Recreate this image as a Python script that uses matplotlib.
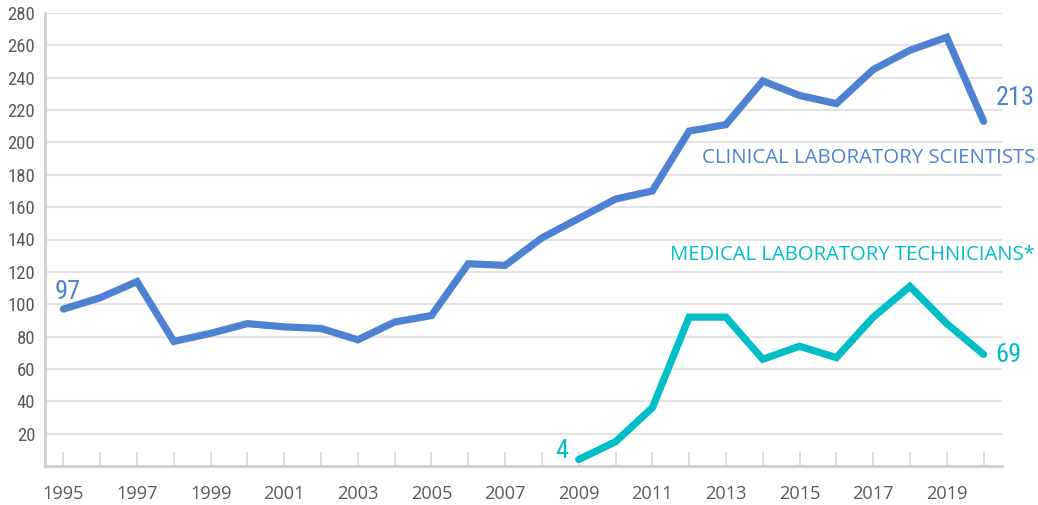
import matplotlib
matplotlib.use("Agg")
import matplotlib.pyplot as plt

years = list(range(1995, 2021))
clinical = [97, 104, 114, 77, 82, 88, 86, 85, 78, 89, 93, 125, 124, 141, 153,
            165, 170, 207, 211, 238, 229, 224, 245, 257, 265, 213]
tech_years = list(range(2009, 2021))
technicians = [4, 15, 36, 92, 92, 66, 74, 67, 92, 111, 88, 69]

x_labels = [str(y) for y in range(1995, 2021, 2)]
y_ticks = list(range(20, 281, 20))

BLUE = "#4F81D2"
TEAL = "#00BEC8"
GRID = "#e3e3e3"
TICKC = "#5a5a5a"
NARROW = ["Roboto Condensed", "Liberation Sans Narrow", "Roboto", "DejaVu Sans"]
LABELF = ["Open Sans", "DejaVu Sans"]

fig = plt.figure(figsize=(10.38, 5.05), dpi=100)
ax = fig.add_axes([45/1038, 1 - 466/505, (1002 - 45)/1038, (466 - 13)/505])

ax.set_xlim(1994.5, 2020.5)
ax.set_ylim(0, 280)

ax.set_yticks(y_ticks)
ax.set_yticklabels([str(v) for v in y_ticks], family=NARROW, fontsize=13.5, color=TICKC)
ax.tick_params(axis="y", length=0, pad=7)
ax.grid(axis="y", color=GRID, linewidth=1.6)
ax.set_axisbelow(True)

ax.set_xticks(years, minor=True)
ax.set_xticks(list(range(1995, 2021, 2)))
ax.set_xticklabels(x_labels, family=LABELF, fontsize=13.1, color=TICKC)
ax.tick_params(axis="x", which="both", direction="in", length=10, color="#d6d6d6", width=1.2)
ax.tick_params(axis="x", which="major", pad=14.0)

for s in ["top", "right"]:
    ax.spines[s].set_visible(False)
for s in ["left", "bottom"]:
    ax.spines[s].set_color("#d2d2d2")
    ax.spines[s].set_linewidth(2.2)

ax.plot(years, clinical, color=BLUE, linewidth=5.2, solid_capstyle="round", solid_joinstyle="miter", clip_on=False)
ax.plot(tech_years, technicians, color=TEAL, linewidth=5.2, solid_capstyle="round", solid_joinstyle="miter", clip_on=False)

def end_label(x, y, color, dx, dy, ha):
    ax.annotate(str(y), xy=(x, y), xytext=(dx, dy), textcoords="offset pixels",
                family=NARROW, fontsize=19, color=color, ha=ha, va="baseline")

end_label(years[0], clinical[0], BLUE, -9, 10, "left")
end_label(years[-1], clinical[-1], BLUE, 12, 16, "left")
end_label(tech_years[0], technicians[0], TEAL, -10, 2, "right")
end_label(tech_years[-1], technicians[-1], TEAL, 12, -8, "left")

ax.text(1035/1038, 1 - 158/505, "CLINICAL LABORATORY SCIENTISTS", transform=fig.transFigure,
        family=LABELF, fontsize=14.7, color=BLUE, ha="right", va="center")
ax.text(1035/1038, 1 - 255/505, "MEDICAL LABORATORY TECHNICIANS*", transform=fig.transFigure,
        family=LABELF, fontsize=14.6, color=TEAL, ha="right", va="center")

fig.savefig("out.png", dpi=100)
